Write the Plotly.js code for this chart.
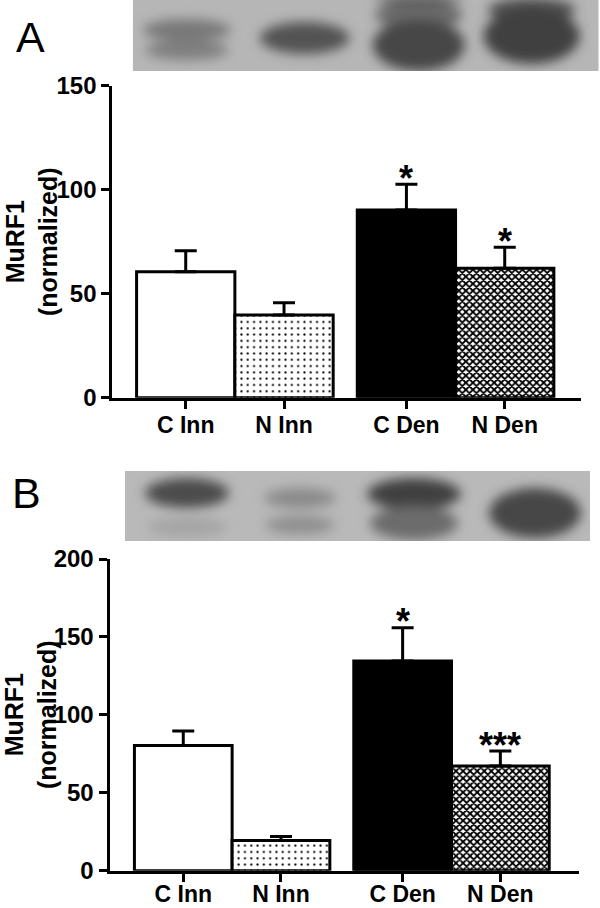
<!DOCTYPE html>
<html>
<head>
<meta charset="utf-8">
<script src="https://cdn.plot.ly/plotly-3.0.1.min.js"></script>
<style>
html,body{margin:0;padding:0;background:#fff;}
#chart{width:600px;height:908px;}
</style>
</head>
<body>
<div id="chart"></div>
<script>
// ---- data ----
const categories = ['C Inn', 'N Inn', 'C Den', 'N Den'];
const meanA = [60.6, 39.8, 90.2, 62.2];
const semA  = [10.1, 5.9, 12.4, 10.1];
const starsA = ['', '', '*', '*'];
const meanB = [80.4, 19.4, 134.5, 67.2];
const semB  = [9.2, 2.6, 21.4, 9.6];
const starsB = ['', '', '*', '***'];
const yTicksA = [0, 50, 100, 150];
const yTicksB = [0, 50, 100, 150, 200];

// ---- layout constants ----
const W = 600, H = 908;
const xpos = [0, 1, 2.245, 3.245];
const FONT = '"Liberation Sans", Arial, Helvetica, sans-serif';
const px = v => v / W;
const py = v => (H - v) / H;

// per-bar styles: open, dotted, solid black, checkered
const barStyles = [
  {color: '#ffffff'},
  {color: '#ffffff', pattern: {shape: '.', fgcolor: '#000000', bgcolor: '#ffffff', size: 6.3, solidity: 0.09}},
  {color: '#000000'},
  {color: '#ffffff', pattern: {shape: 'x', fgcolor: '#000000', bgcolor: '#ffffff', size: 5, solidity: 0.6}}
];

function barTraces(mean, sem, xa, ya) {
  return mean.map((m, i) => ({
    type: 'bar', x: [xpos[i]], y: [m], xaxis: xa, yaxis: ya, width: 1,
    marker: Object.assign({line: {color: '#000', width: 3}}, barStyles[i]),
    error_y: {type: 'data', array: [sem[i]], arrayminus: [0], symmetric: false,
              color: '#000', thickness: 3, width: 11},
    hoverinfo: 'none', showlegend: false
  }));
}

function axisX(domain, range, anchor, standoff) {
  return {
    domain: domain, range: range, anchor: anchor, showgrid: false, zeroline: false,
    showline: true, linecolor: '#000', linewidth: 3,
    ticks: 'outside', ticklen: 8, tickwidth: 3, tickcolor: '#000',
    tickvals: xpos, ticktext: categories, ticklabelstandoff: standoff,
    tickfont: {family: FONT, size: 23, color: '#000', weight: 'bold'},
    fixedrange: true
  };
}
function axisY(domain, range, ticks, anchor) {
  return {
    domain: domain, range: range, anchor: anchor, showgrid: false, zeroline: false,
    showline: true, linecolor: '#000', linewidth: 3,
    ticks: 'outside', ticklen: 8, tickwidth: 3, tickcolor: '#000',
    tickvals: ticks, ticktext: ticks.map(String),
    tickfont: {family: FONT, size: 24, color: '#000', weight: 'bold'},
    fixedrange: true
  };
}

// ---- blot pictures (decorative, inline SVG) ----
function blotSVG(w, h, bg, bands) {
  let s = `<svg xmlns="http://www.w3.org/2000/svg" width="${w}" height="${h}" viewBox="0 0 ${w} ${h}">` +
    `<defs><filter id="f" x="-50%" y="-50%" width="200%" height="200%"><feGaussianBlur stdDeviation="6"/></filter></defs>` +
    `<rect x="0" y="0" width="${w}" height="${h}" fill="${bg}"/><g filter="url(#f)">`;
  bands.forEach(b => {
    s += `<ellipse cx="${b[0]}" cy="${b[1]}" rx="${b[2]}" ry="${b[3]}" fill="${b[4]}"/>`;
  });
  s += '</g></svg>';
  return 'data:image/svg+xml;charset=utf-8,' + encodeURIComponent(s);
}
const blotA = blotSVG(466, 71, '#b6b6b6', [
  [54, 30, 44, 11, '#787878'], [54, 50, 42, 10, '#7f7f7f'],
  [172, 38, 45, 16, '#535353'],
  [286, 15, 44, 14, '#6a6a6a'], [286, 45, 46, 26, '#474747'], [286, 0, 44, 4, '#505050'],
  [399, 10, 44, 12, '#4e4e4e'], [399, 36, 48, 28, '#414141']
]);
const blotB = blotSVG(465, 70, '#b9b9b9', [
  [62, 22, 42, 15, '#4c4c4c'], [62, 56, 40, 10, '#a5a5a5'],
  [175, 27, 36, 10, '#8a8a8a'], [175, 54, 35, 9, '#8e8e8e'],
  [289, 23, 47, 16, '#414141'], [289, 52, 44, 17, '#6c6c6c'],
  [410, 42, 46, 25, '#474747']
]);

// ---- figure ----
const data = barTraces(meanA, semA, 'x', 'y').concat(barTraces(meanB, semB, 'x2', 'y2'));

const annotations = [];
function addStars(stars, mean, sem, xr, yr) {
  stars.forEach((s, i) => {
    if (!s) return;
    annotations.push({
      xref: xr, yref: yr, x: xpos[i], y: mean[i] + sem[i], text: s, showarrow: false,
      xanchor: 'center', yanchor: 'middle', yshift: 6,
      font: {family: FONT, size: 36, color: '#000', weight: 'bold'}
    });
  });
}
addStars(starsA, meanA, semA, 'x', 'y');
addStars(starsB, meanB, semB, 'x2', 'y2');

const titleFont = {family: FONT, size: 25, color: '#000', weight: 'bold'};
annotations.push(
  {xref: 'paper', yref: 'paper', x: px(30), y: py(37), text: 'A', showarrow: false,
   xanchor: 'center', yanchor: 'middle', font: {family: FONT, size: 43, color: '#000'}},
  {xref: 'paper', yref: 'paper', x: px(26), y: py(493), text: 'B', showarrow: false,
   xanchor: 'center', yanchor: 'middle', font: {family: FONT, size: 43, color: '#000'}},
  {xref: 'paper', yref: 'paper', x: px(32), y: py(242), text: 'MuRF1<br>(normalized)', showarrow: false,
   textangle: -90, xanchor: 'center', yanchor: 'middle', font: titleFont},
  {xref: 'paper', yref: 'paper', x: px(30), y: py(715), text: 'MuRF1<br>(normalized)', showarrow: false,
   textangle: -90, xanchor: 'center', yanchor: 'middle', font: titleFont}
);

const layout = {
  width: W, height: H,
  margin: {l: 0, r: 0, t: 0, b: 0},
  paper_bgcolor: '#fff', plot_bgcolor: '#fff',
  showlegend: false, barmode: 'overlay',
  xaxis: axisX([px(112.3), px(581)], [-0.747, 4.021], 'y', -3),
  yaxis: axisY([py(397.7), py(85.7)], [0, 150], yTicksA, 'x'),
  xaxis2: axisX([px(109.5), px(579)], [-0.755, 4.05], 'y2', -7),
  yaxis2: axisY([py(870.7), py(559)], [0, 200], yTicksB, 'x2'),
  annotations: annotations,
  images: [
    {source: blotA, xref: 'paper', yref: 'paper', x: px(132.7), y: py(0), sizex: 466 / W, sizey: 71 / H,
     xanchor: 'left', yanchor: 'top', sizing: 'stretch', layer: 'above'},
    {source: blotB, xref: 'paper', yref: 'paper', x: px(125), y: py(471), sizex: 465 / W, sizey: 70 / H,
     xanchor: 'left', yanchor: 'top', sizing: 'stretch', layer: 'above'}
  ]
};

Plotly.newPlot('chart', data, layout, {displayModeBar: false, staticPlot: true});
</script>
</body>
</html>
